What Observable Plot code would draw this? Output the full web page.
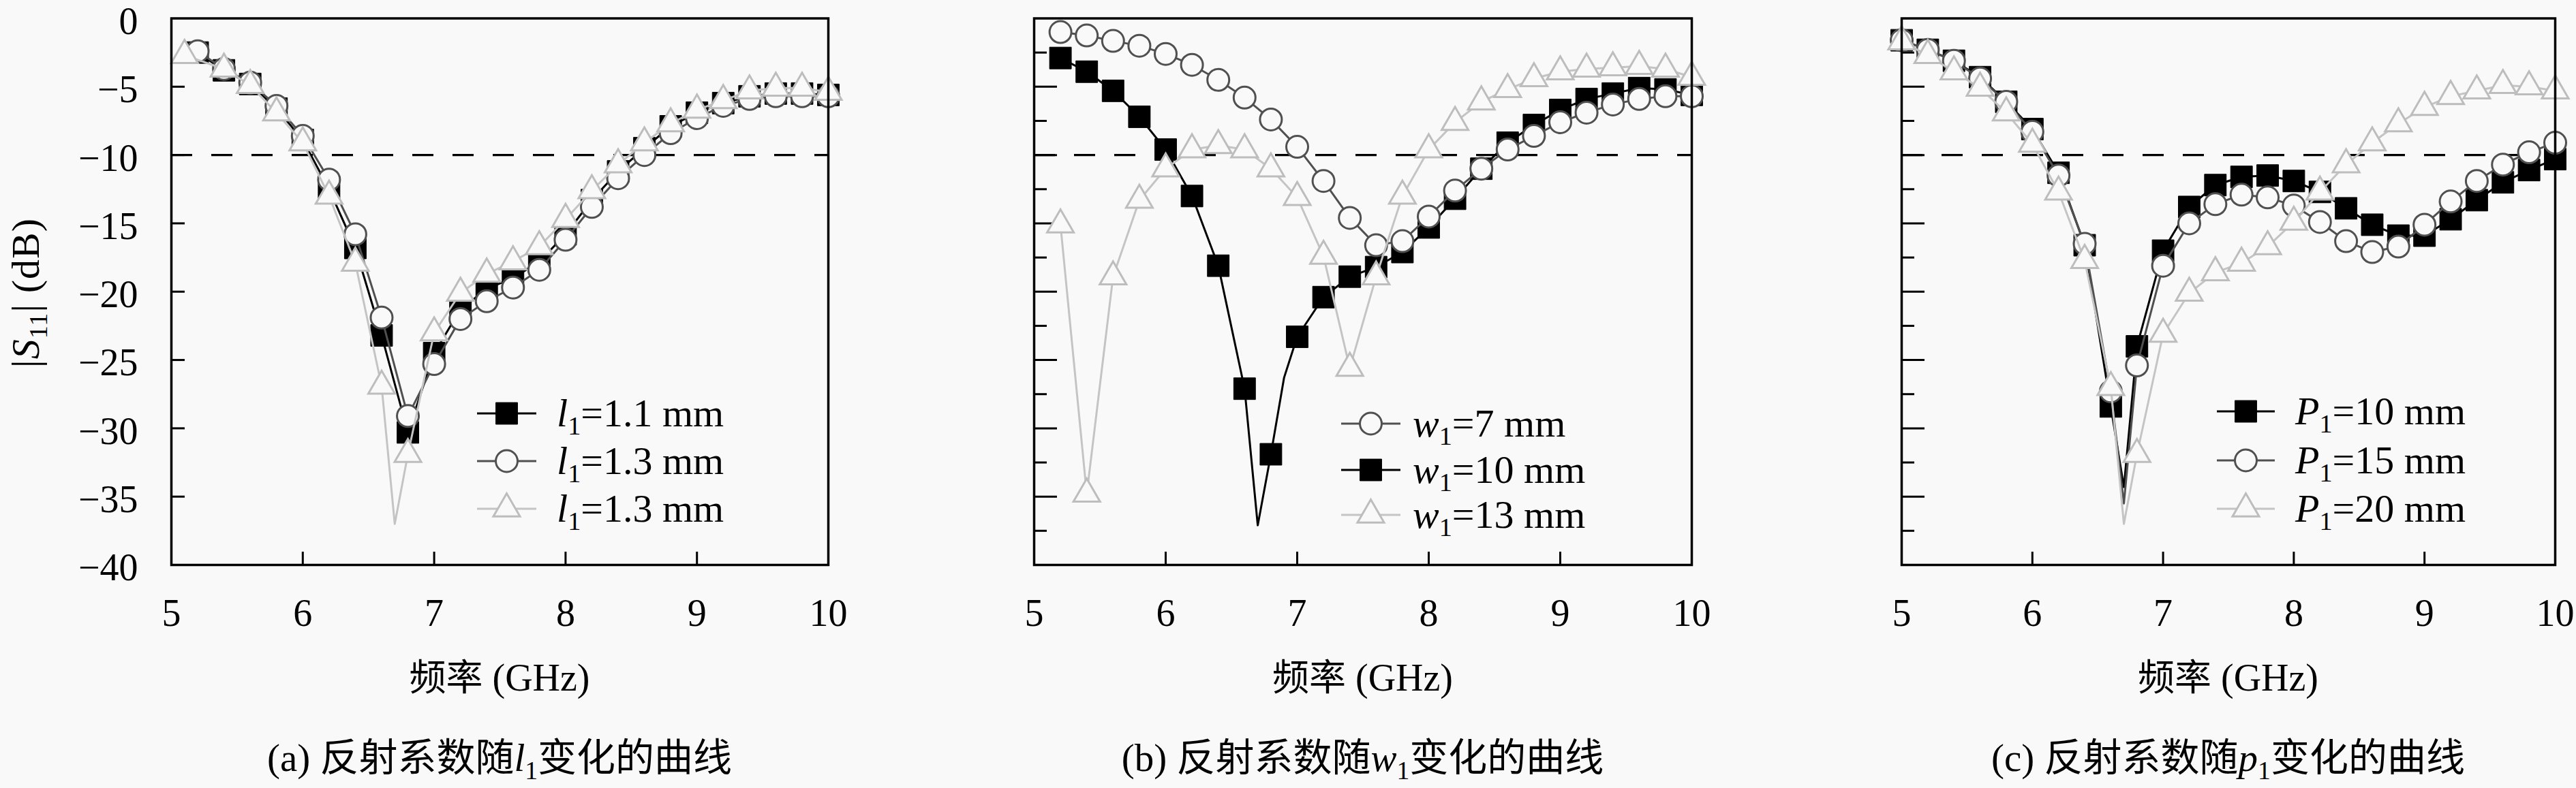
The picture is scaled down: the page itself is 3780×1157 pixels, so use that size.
<!DOCTYPE html>
<html><head><meta charset="utf-8">
<script src="https://cdn.jsdelivr.net/npm/d3@7"></script>
<script src="https://cdn.jsdelivr.net/npm/@observablehq/plot@0.6"></script>
<style>
html,body{margin:0;padding:0;background:#f9f9f9;}
#root{position:relative;width:3780px;height:1157px;overflow:hidden;background:#f9f9f9;color:#000;font-family:"Liberation Serif","Noto Sans CJK SC",serif;}
.plot{position:absolute;top:0;}
.txt{position:absolute;white-space:nowrap;transform:translate(-50%,-50%);line-height:1;}
.sub{font-size:0.66em;position:relative;top:0.32em;font-style:normal;}
.cjk{font-family:"Noto Sans CJK SC",sans-serif;}
.leg{position:absolute;display:flex;align-items:center;transform:translateY(-50%);white-space:nowrap;font-size:58px;line-height:1;}
.leg svg{display:block;overflow:visible;}
#ylab{position:absolute;left:-122px;top:395px;width:320px;height:70px;line-height:70px;text-align:center;white-space:nowrap;font-size:58px;letter-spacing:1px;transform:rotate(-90deg);transform-origin:50% 50%;}
</style></head>
<body><div id="root"></div>
<script>
// ---------- data ----------
const xTicks = [5, 6, 7, 8, 9, 10];
const yTicksLabeled = [0, -5, -10, -15, -20, -25, -30, -35, -40];
const yTicksMajor = [-5, -10, -15, -20, -25, -30, -35];
const yTicksMinor = [-2.5, -7.5, -12.5, -17.5, -22.5, -27.5, -32.5, -37.5];
const threshold = -10;

// panel (a)
const freqA = [5.2,5.4,5.6,5.8,6.0,6.2,6.4,6.6,6.8,7.0,7.2,7.4,7.6,7.8,8.0,8.2,8.4,8.6,8.8,9.0,9.2,9.4,9.6,9.8,10.0];
const freqA3 = [5.1,5.4,5.6,5.8,6.0,6.2,6.4,6.6,6.8,7.0,7.2,7.4,7.6,7.8,8.0,8.2,8.4,8.6,8.8,9.0,9.2,9.4,9.6,9.8,10.0];
const a_l1_11 = [-2.5,-3.8,-4.8,-6.6,-8.9,-12.5,-16.8,-23.2,-30.3,-24.5,-21.3,-19.8,-19.0,-17.8,-15.8,-13.3,-11.2,-9.5,-7.9,-6.9,-6.2,-5.7,-5.5,-5.5,-5.6];
const a_l1_13 = [-2.4,-3.7,-4.7,-6.4,-8.6,-11.8,-15.8,-21.9,-29.1,-25.3,-22.0,-20.7,-19.7,-18.4,-16.2,-13.8,-11.7,-10.0,-8.4,-7.3,-6.4,-5.9,-5.7,-5.7,-5.7];
const a_l1_13b = [-2.7,-3.7,-4.9,-6.9,-9.1,-13.0,-17.9,-26.9,-31.9,-23.0,-20.1,-18.7,-17.8,-16.7,-14.7,-12.6,-10.7,-9.1,-7.7,-6.7,-6.0,-5.3,-5.1,-5.1,-5.4];
const a_dipF3 = [6.7], a_dipV3 = [-37.0];

// panel (b)
const freqB = [5.2,5.4,5.6,5.8,6.0,6.2,6.4,6.6,6.8,7.0,7.2,7.4,7.6,7.8,8.0,8.2,8.4,8.6,8.8,9.0,9.2,9.4,9.6,9.8,10.0];
const b_w1_7 = [-1.0,-1.25,-1.65,-2.0,-2.6,-3.4,-4.5,-5.8,-7.4,-9.4,-11.9,-14.6,-16.6,-16.3,-14.5,-12.6,-11.0,-9.6,-8.6,-7.6,-6.9,-6.3,-5.9,-5.7,-5.7];
const b_w1_10 = [-2.9,-3.9,-5.3,-7.2,-9.6,-13.0,-18.1,-27.1,-31.9,-23.3,-20.4,-18.9,-18.2,-17.1,-15.3,-13.2,-11.0,-9.1,-7.8,-6.7,-5.9,-5.5,-5.1,-5.2,-5.6];
const b_dipF2 = [6.7, 6.9], b_dipV2 = [-37.1, -26.3];
const b_w1_13 = [-15.1,-34.8,-18.9,-13.3,-11.0,-9.6,-9.3,-9.6,-11.0,-13.1,-17.4,-25.6,-18.9,-13.0,-9.6,-7.6,-6.1,-5.2,-4.4,-3.9,-3.7,-3.6,-3.5,-3.7,-4.3];

// panel (c)
const freqC = [5.0,5.2,5.4,5.6,5.8,6.0,6.2,6.4,6.6,6.8,7.0,7.2,7.4,7.6,7.8,8.0,8.2,8.4,8.6,8.8,9.0,9.2,9.4,9.6,9.8,10.0];
const c_P1_10 = [-1.6,-2.3,-3.1,-4.3,-6.1,-8.1,-11.3,-16.6,-28.4,-24.0,-17.0,-13.8,-12.2,-11.6,-11.5,-11.9,-12.7,-13.9,-15.1,-15.9,-15.9,-14.7,-13.3,-12.0,-11.1,-10.3];
const c_dipF1 = [6.7], c_dipV1 = [-34.3];
const c_P1_15 = [-1.6,-2.3,-3.1,-4.4,-6.1,-8.3,-11.5,-16.5,-27.3,-25.4,-18.1,-15.0,-13.6,-12.9,-13.1,-13.7,-14.9,-16.3,-17.1,-16.7,-15.1,-13.4,-11.9,-10.7,-9.8,-9.1];
const c_dipF2 = [6.7], c_dipV2 = [-35.5];
const c_P1_20 = [-1.7,-2.7,-3.9,-5.1,-6.9,-9.2,-12.7,-17.7,-27.0,-31.9,-23.1,-20.1,-18.6,-17.9,-16.7,-14.9,-12.7,-10.7,-9.1,-7.7,-6.5,-5.7,-5.3,-4.9,-5.0,-5.3];
const c_dipF3 = [6.7], c_dipV3 = [-37.0];

// ---------- styles ----------
const BG = "#f9f9f9";
const STY = {
  square:   {symbol: "square",   r: 18,   fill: "#000", stroke: "#000", sw: 1, line: "#000"},
  circle:   {symbol: "circle",   r: 16,   fill: BG, stroke: "#505050", sw: 3, line: "#505050"},
  triangle: {symbol: "triangle", r: 14.5, fill: BG, stroke: "#bdbdbd", sw: 3, line: "#c4c4c4"}
};
const D3SYM = {square: d3.symbolSquare, circle: d3.symbolCircle, triangle: d3.symbolTriangle};

const H = 940, MT = 26.5, MB = 111;

const panels = [
  {L: 0, W: 1260, ML: 251, MR: 45, labels: true, yTickLen: 20, minor: false,
   series: [
     {f: freqA, v: a_l1_11, s: "square", label: '<i>l</i><span class="sub">1</span>=1.1 mm'},
     {f: freqA, v: a_l1_13, s: "circle", label: '<i>l</i><span class="sub">1</span>=1.3 mm'},
     {f: freqA3, v: a_l1_13b, df: a_dipF3, dv: a_dipV3, s: "triangle", label: '<i>l</i><span class="sub">1</span>=1.3 mm'}
   ],
   legend: {x0: 700, x1: 787, tx: 817, rows: [607, 677, 747]},
   caption: '(a) <span class="cjk">反射系数随</span><i>l</i><span class="sub">1</span><span class="cjk">变化的曲线</span>'},
  {L: 1260, W: 1262, ML: 257, MR: 40, labels: false, yTickLen: 34, minor: true,
   series: [
     {f: freqB, v: b_w1_10, df: b_dipF2, dv: b_dipV2, s: "square", label: '<i>w</i><span class="sub">1</span>=10 mm'},
     {f: freqB, v: b_w1_7, s: "circle", label: '<i>w</i><span class="sub">1</span>=7 mm'},
     {f: freqB, v: b_w1_13, s: "triangle", label: '<i>w</i><span class="sub">1</span>=13 mm'}
   ],
   legendOrder: [1, 0, 2],
   legend: {x0: 1968, x1: 2055, tx: 2073, rows: [622, 690, 756]},
   caption: '(b) <span class="cjk">反射系数随</span><i>w</i><span class="sub">1</span><span class="cjk">变化的曲线</span>'},
  {L: 2522, W: 1258, ML: 268, MR: 31, labels: false, yTickLen: 34, minor: true,
   series: [
     {f: freqC, v: c_P1_10, df: c_dipF1, dv: c_dipV1, s: "square", label: '<i>P</i><span class="sub">1</span>=10 mm'},
     {f: freqC, v: c_P1_15, df: c_dipF2, dv: c_dipV2, s: "circle", label: '<i>P</i><span class="sub">1</span>=15 mm'},
     {f: freqC, v: c_P1_20, df: c_dipF3, dv: c_dipV3, s: "triangle", label: '<i>P</i><span class="sub">1</span>=20 mm'}
   ],
   legend: {x0: 3253, x1: 3338, tx: 3368, rows: [604, 676, 747]},
   caption: '(c) <span class="cjk">反射系数随</span><i>p</i><span class="sub">1</span><span class="cjk">变化的曲线</span>'}
];

const fmt = d => d < 0 ? "\u2212" + (-d) : String(d);
const root = document.getElementById("root");

function lineData(s) {
  const pts = s.f.map((f, i) => ({f, v: s.v[i]}));
  (s.df || []).forEach((f, i) => pts.push({f, v: s.dv[i]}));
  return pts.sort((a, b) => a.f - b.f);
}

panels.forEach(p => {
  const fw = p.W - p.ML - p.MR, fh = H - MT - MB;
  const marks = [];
  // inward ticks
  marks.push(Plot.tickX(xTicks.slice(1, -1), {x: d => d, insetTop: fh - 19, stroke: "#000", strokeWidth: 3}));
  marks.push(Plot.tickY(yTicksMajor, {y: d => d, insetRight: fw - p.yTickLen, stroke: "#000", strokeWidth: 3}));
  if (p.minor) marks.push(Plot.tickY(yTicksMinor, {y: d => d, insetRight: fw - 19, stroke: "#000", strokeWidth: 3}));
  marks.push(Plot.axisX({ticks: xTicks, tickSize: 0, tickPadding: 50, tickFormat: d => String(d), label: null}));
  if (p.labels) marks.push(Plot.axisY({ticks: yTicksLabeled, tickSize: 0, tickPadding: 49, dy: 5, tickFormat: fmt, label: null}));
  marks.push(Plot.ruleY([threshold], {stroke: "#000", strokeWidth: 3.3, strokeDasharray: "31 28"}));
  p.series.forEach(s => {
    const st = STY[s.s];
    marks.push(Plot.line(lineData(s), {x: "f", y: "v", stroke: st.line, strokeWidth: 3}));
    marks.push(Plot.dot(s.f.map((f, i) => ({f, v: s.v[i]})), {x: "f", y: "v", symbol: st.symbol, r: st.r, fill: st.fill, stroke: st.stroke, strokeWidth: st.sw}));
  });
  marks.push(Plot.frame({stroke: "#000", strokeWidth: 3.5}));

  const svg = Plot.plot({
    width: p.W, height: H,
    marginLeft: p.ML, marginRight: p.MR, marginTop: MT, marginBottom: MB,
    style: {background: "transparent", fontFamily: '"Liberation Serif","Noto Sans CJK SC",serif', fontSize: "56px", color: "#000", overflow: "visible"},
    x: {domain: [5, 10], axis: null},
    y: {domain: [-40, 0], axis: null},
    marks
  });
  svg.classList.add("plot");
  svg.style.left = p.L + "px";
  root.appendChild(svg);

  const cx = p.L + p.ML + fw / 2;
  // x-axis title
  const xt = document.createElement("div");
  xt.className = "txt";
  xt.style.cssText = `left:${cx}px;top:993px;font-size:56px;`;
  xt.innerHTML = '<span class="cjk" style="font-size:54px">频率</span> (GHz)';
  root.appendChild(xt);
  // caption
  const cap = document.createElement("div");
  cap.className = "txt";
  cap.style.cssText = `left:${cx}px;top:1110px;font-size:57px;`;
  cap.innerHTML = p.caption;
  root.appendChild(cap);

  // legend
  const order = p.legendOrder || [0, 1, 2];
  order.forEach((si, k) => {
    const s = p.series[si], st = STY[s.s];
    const w = p.legend.x1 - p.legend.x0;
    const row = document.createElement("div");
    row.className = "leg";
    row.style.left = p.legend.x0 + "px";
    row.style.top = p.legend.rows[k] + "px";
    const path = d3.symbol(D3SYM[s.s], Math.PI * st.r * st.r)();
    row.innerHTML = `<svg width="${w}" height="44"><line x1="0" x2="${w}" y1="22" y2="22" stroke="${st.line}" stroke-width="3"/>` +
      `<path d="${path}" transform="translate(${w / 2},22)" fill="${st.fill}" stroke="${st.stroke}" stroke-width="${st.sw}"/></svg>` +
      `<span style="margin-left:${p.legend.tx - p.legend.x1}px">${s.label}</span>`;
    root.appendChild(row);
  });
});

// y-axis title (panel a)
const yl = document.createElement("div");
yl.id = "ylab";
yl.innerHTML = '|<i>S</i><span class="sub">11</span>| (dB)';
root.appendChild(yl);
</script>
</body></html>
